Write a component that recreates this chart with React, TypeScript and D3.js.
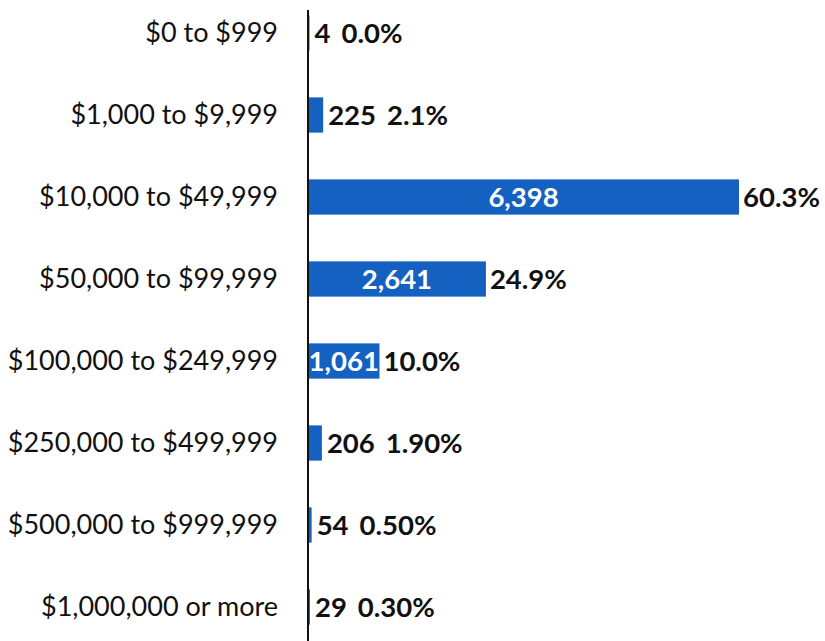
import React from "react";
import * as d3 from "d3";

const categories = [
  "$0 to $999",
  "$1,000 to $9,999",
  "$10,000 to $49,999",
  "$50,000 to $99,999",
  "$100,000 to $249,999",
  "$250,000 to $499,999",
  "$500,000 to $999,999",
  "$1,000,000 or more",
];
const counts = [4, 225, 6398, 2641, 1061, 206, 54, 29];
const percents = ["0.0%", "2.1%", "60.3%", "24.9%", "10.0%", "1.90%", "0.50%", "0.30%"];
const insideLabel = [false, false, true, true, true, false, false, false];

const W = 825;
const H = 641;
const BLUE = "#1461C1";
const FONT = "Lato, 'Open Sans', sans-serif";
const VFS = 27.5;

export default function App() {
  const x = d3.scaleLinear().domain([0, 6398]).range([308, 739]);
  const y = d3
    .scaleBand<string>()
    .domain(categories)
    .range([-8, 648])
    .paddingInner(0.57)
    .paddingOuter(0.285);
  const fmt = d3.format(",");
  const bw = y.bandwidth();

  return (
    <svg
      width={W}
      height={H}
      style={{ position: "absolute", left: 0, top: 0, background: "#fff" }}
    >
      {categories.map((c, i) => {
        const y0 = y(c)!;
        const cy = y0 + bw / 2;
        const x1 = x(counts[i]);
        const w = Math.max(x1 - x(0), 1.5);
        return (
          <g key={c}>
            <text
              x={278}
              y={cy}
              dy="0.35em"
              textAnchor="end"
              fontFamily={FONT}
              fontSize={27}
              fill="#111"
            >
              {c}
            </text>
            <rect x={x(0)} y={y0} width={w} height={bw} fill={BLUE} />
            {insideLabel[i] ? (
              <>
                <text
                  x={(x(0) + x1) / 2}
                  y={cy}
                  dy="0.35em"
                  textAnchor="middle"
                  fontFamily={FONT}
                  fontWeight="bold"
                  fontSize={VFS}
                  fill="#fff"
                >
                  {fmt(counts[i])}
                </text>
                <text
                  x={x1 + 4}
                  y={cy}
                  dy="0.35em"
                  fontFamily={FONT}
                  fontWeight="bold"
                  fontSize={VFS}
                  fill="#111"
                >
                  {percents[i]}
                </text>
              </>
            ) : (
              <text
                x={x(0) + w + 5}
                y={cy}
                dy="0.35em"
                fontFamily={FONT}
                fontWeight="bold"
                fontSize={VFS}
                fill="#111"
              >
                <tspan>{fmt(counts[i])}</tspan>
                <tspan dx={11}>{percents[i]}</tspan>
              </text>
            )}
          </g>
        );
      })}
      <line x1={x(0)} x2={x(0)} y1={10} y2={H} stroke="#111" strokeWidth={2} />
    </svg>
  );
}
